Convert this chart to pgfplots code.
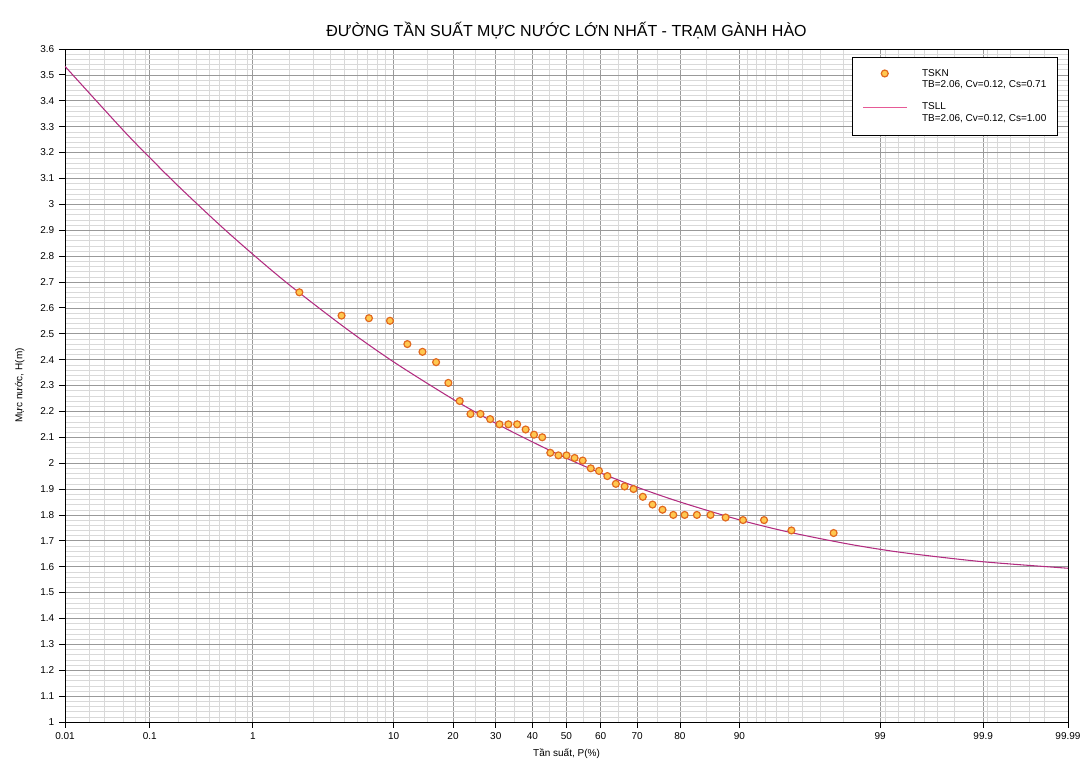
\documentclass[border=0pt]{standalone}
\usepackage{fontspec}
\setmainfont{Liberation Sans}
\usepackage{pgfplots}
\pgfplotsset{compat=1.18}
\definecolor{ptfill}{RGB}{255,200,80}
\definecolor{ptedge}{RGB}{225,105,30}
\definecolor{curvec}{RGB}{178,44,128}
\definecolor{legline}{RGB}{230,90,150}
\pgfplotsset{
  mkleg/.style={legend image code/.code={\path[draw=none,fill=none] (0pt,-8pt) rectangle (44pt,8pt);\draw[##1] plot coordinates {(18pt,4.5pt)};}},
  lnleg/.style={legend image code/.code={\path[draw=none,fill=none] (0pt,-8pt) rectangle (44pt,8pt);\draw[##1, draw=legline, line width=0.8pt] (2pt,4.5pt) -- (35pt,4.5pt);}},
}
\begin{document}
\begin{tikzpicture}
\begin{axis}[
  at={(0,0)}, anchor=south west,
  scale only axis, width=752.25pt, height=504.75pt,
  xmin=-3.719, xmax=3.719, ymin=1, ymax=3.6,
  xtick={-3.719,-3.0902,-2.3263,-1.2816,-0.8416,-0.5244,-0.2533,0,0.2533,0.5244,0.8416,1.2816,2.3263,3.0902,3.719},
  xticklabels={0.01,0.1,1,10,20,30,40,50,60,70,80,90,99,99.9,99.99},
  minor xtick={-3.540,-3.432,-3.291,-3.195,-3.121,-2.878,-2.748,-2.652,-2.576,-2.457,-2.366,-2.054,-1.881,-1.751,-1.645,-1.555,-1.476,-1.405,-1.341,-1.036,-0.674,-0.385,-0.126,0.126,0.385,0.674,1.036,1.341,1.405,1.476,1.555,1.645,1.751,1.881,2.054,2.366,2.457,2.576,2.652,2.748,2.878,3.121,3.195,3.291,3.432,3.540},
  ytick={1,1.1,1.2,1.3,1.4,1.5,1.6,1.7,1.8,1.9,2,2.1,2.2,2.3,2.4,2.5,2.6,2.7,2.8,2.9,3,3.1,3.2,3.3,3.4,3.5,3.6},
  minor y tick num=4,
  grid=both,
  major grid style={gray!80, line width=0.5pt},
  minor grid style={gray!30, line width=0.3pt},
  axis line style={black, line width=0.6pt},
  tick pos=left,
  tick align=outside, major tick length=4.5pt, minor tick length=0pt,
  tick style={black, line width=0.6pt},
  ticklabel style={font=\fontsize{7.5}{9}\selectfont},
  /pgf/number format/assume math mode=true,
  title={ĐƯỜNG TẦN SUẤT MỰC NƯỚC LỚN NHẤT - TRẠM GÀNH HÀO},
  title style={font=\fontsize{12}{14}\selectfont, at={(axis description cs:0.5,1)}, anchor=center, yshift=7.5pt},
  xlabel={Tần suất, P(\%)},
  ylabel={Mực nước, H(m)},
  label style={font=\fontsize{7.5}{9}\selectfont},
  xlabel style={at={(axis description cs:0.5,0)}, anchor=center, yshift=-24pt},
  ylabel style={at={(axis description cs:0,0.5)}, anchor=center, yshift=34pt},
  legend style={at={(axis description cs:1,1)}, anchor=north east, xshift=-8pt, yshift=-6pt,
    font=\fontsize{7.5}{8.5}\selectfont, cells={align=left, anchor=west},
    draw=black, line width=0.5pt, fill=white, row sep=6pt, inner xsep=6pt, inner ysep=7pt},
  legend cell align=left,
]
\addplot[only marks, mark=*, mark size=2.6pt,
  mark options={draw=ptedge, fill=ptfill, line width=0.9pt}, mkleg]
coordinates {
(-1.981,2.66) (-1.668,2.57) (-1.465,2.56) (-1.309,2.55) (-1.180,2.46)
(-1.068,2.43) (-0.967,2.39) (-0.876,2.31) (-0.792,2.24) (-0.712,2.19)
(-0.638,2.19) (-0.566,2.17) (-0.497,2.15) (-0.431,2.15) (-0.366,2.15)
(-0.303,2.13) (-0.241,2.11) (-0.180,2.10) (-0.120,2.04) (-0.060,2.03)
(0,2.03) (0.060,2.02) (0.120,2.01) (0.180,1.98) (0.241,1.97)
(0.303,1.95) (0.366,1.92) (0.431,1.91) (0.497,1.90) (0.566,1.87)
(0.638,1.84) (0.712,1.82) (0.792,1.80) (0.876,1.80) (0.967,1.80)
(1.068,1.80) (1.180,1.79) (1.309,1.78) (1.465,1.78) (1.668,1.74)
(1.981,1.73)
};
\addlegendentry{TSKN\\TB=2.06, Cv=0.12, Cs=0.71}
\addplot[smooth, curvec, line width=0.8pt, lnleg]
coordinates {
(-3.719,3.533) (-3.291,3.288) (-3.0902,3.180) (-2.878,3.070) (-2.5758,2.922)
(-2.3263,2.807) (-2.0537,2.688) (-1.6449,2.524) (-1.2816,2.391) (-0.8416,2.247)
(-0.5244,2.154) (-0.2533,2.082) (0,2.019) (0.2533,1.962) (0.5244,1.907)
(0.8416,1.850) (1.2816,1.781) (1.6449,1.734) (2.0537,1.691) (2.3263,1.667)
(2.5758,1.649) (3.0902,1.619) (3.719,1.594)
};
\addlegendentry{TSLL\\TB=2.06, Cv=0.12, Cs=1.00}
\end{axis}
\pgfresetboundingbox
\useasboundingbox (-48.75pt,-33pt) rectangle (763.5pt,541.5pt);
\end{tikzpicture}
\end{document}
